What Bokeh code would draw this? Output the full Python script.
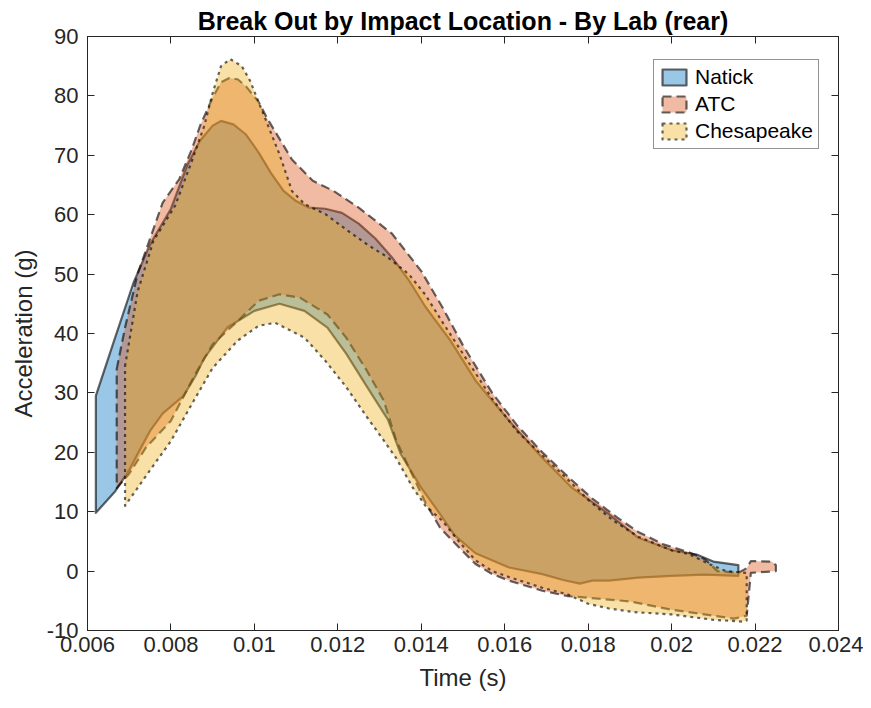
from bokeh.plotting import figure
from bokeh.models import LinearAxis, FixedTicker, Range1d, Legend, LegendItem
from bokeh.embed import file_html
from bokeh.resources import INLINE

# ---------------- data ----------------
natick_t_upper = [0.0062, 0.0066, 0.0071, 0.0075, 0.0080, 0.0084, 0.0087, 0.0090, 0.0092,
                  0.0095, 0.0098, 0.0101, 0.0104, 0.0107, 0.0110, 0.0113, 0.0117, 0.0121,
                  0.0125, 0.0129, 0.0133, 0.0137, 0.0141, 0.0147, 0.0153, 0.0161, 0.0169,
                  0.0176, 0.0185, 0.0192, 0.0200, 0.0206, 0.0210, 0.0216]
natick_upper = [29.5, 38, 48.5, 55, 61, 68.5, 72.5, 75, 75.8,
                75.2, 73.5, 70.5, 67, 64, 62.3, 61.2, 61, 60.3,
                58.5, 56, 52.8, 49, 44.5, 38.8, 32.1, 25.3, 19.1,
                14.1, 9.6, 5.6, 3.5, 2.8, 1.6, 1.0]
natick_t_lower = [0.0062, 0.00667, 0.0070, 0.0073, 0.0075, 0.0078, 0.0083, 0.0086, 0.0088,
                  0.00935, 0.0100, 0.0106, 0.0112, 0.01175, 0.0122, 0.0127, 0.0132, 0.0135,
                  0.0140, 0.01445, 0.0148, 0.0153, 0.0161, 0.0169, 0.0174, 0.0178, 0.0181,
                  0.0185, 0.0192, 0.0200, 0.0208, 0.0216]
natick_lower = [9.8, 13.5, 17, 21, 23.6, 26.5, 29.5, 33, 35.9,
                41, 43.8, 45, 43.8, 41, 36.6, 31, 25.5, 19.8,
                14, 9.6, 6, 3, 0.6, -0.5, -1.5, -2.1, -1.6,
                -1.6, -1.1, -0.8, -0.6, -0.8]

atc_t_upper = [0.0067, 0.0069, 0.0072, 0.0075, 0.0078, 0.0082, 0.0085, 0.0087, 0.0090,
               0.0092, 0.0094, 0.0096, 0.0098, 0.0101, 0.0103, 0.0106, 0.0109, 0.0114,
               0.0119, 0.0125, 0.0133, 0.0140, 0.0145, 0.0150, 0.0157, 0.0163, 0.0169,
               0.0175, 0.0181, 0.0187, 0.0192, 0.0198, 0.0204, 0.0208, 0.0211, 0.0216,
               0.0218, 0.0219, 0.0224, 0.0225]
atc_upper = [34, 41, 50, 56, 62, 66, 71, 75, 79.7,
             82.3, 83, 82.8, 81.6, 79, 76.3, 72.8, 69.3, 65.7,
             64, 61.2, 56.8, 50.5, 44.5, 38, 30, 24.5, 20,
             16, 12.2, 9, 6.6, 4.5, 3.2, 2.0, 0.0, -0.3,
             0.5, 1.7, 1.6, 1.0]
atc_t_lower = [0.0067, 0.0070, 0.0074, 0.0080, 0.00854, 0.0090, 0.0096, 0.0101, 0.0106,
               0.0111, 0.01175, 0.0122, 0.0127, 0.0131, 0.0134, 0.0138, 0.0141, 0.01445,
               0.0149, 0.0153, 0.0157, 0.0161, 0.0169, 0.0175, 0.0180, 0.0190, 0.0200,
               0.0210, 0.0215, 0.0218, 0.0219, 0.0225]
atc_lower = [14, 16.4, 20.8, 25.3, 32.6, 38.2, 42.1, 45.5, 46.6,
             46, 43.2, 39.3, 33.7, 28.7, 22, 16, 11.5, 7.3,
             4, 1.2, -0.5, -1.6, -3.3, -4.2, -4.5, -5.1, -6.5,
             -7.5, -8.0, -7.5, -0.3, 0.0]

ches_t_upper = [0.0069, 0.0072, 0.00758, 0.0081, 0.0085, 0.0088, 0.0090, 0.0092, 0.00942,
                0.0097, 0.0099, 0.0101, 0.0103, 0.0106, 0.0109, 0.0112, 0.0117, 0.0122,
                0.0127, 0.0132, 0.0137, 0.0141, 0.0145, 0.0151, 0.0157, 0.0163, 0.0169,
                0.0175, 0.0180, 0.0186, 0.0192, 0.0200, 0.0204, 0.0209, 0.0213, 0.0218]
ches_upper = [34.5, 47, 55.6, 61.5, 69, 75, 80.5, 85, 86.2,
              85, 82.5, 79, 75.5, 70.2, 64, 61.8, 60.1, 57.5,
              55, 52.8, 50, 46.5, 42, 35.5, 29, 23.5, 19.5,
              15.5, 12, 8.5, 5.8, 3.5, 2.9, 1.2, 0.0, -0.3]
ches_t_lower = [0.0069, 0.00744, 0.0080, 0.00854, 0.0090, 0.0096, 0.0101, 0.0105, 0.0112,
                0.0117, 0.0122, 0.0127, 0.0131, 0.0134, 0.0138, 0.0141, 0.0145, 0.0149,
                0.0153, 0.0157, 0.0161, 0.0169, 0.0175, 0.0180, 0.0185, 0.0191, 0.0200,
                0.0210, 0.0217, 0.0218]
ches_lower = [11, 16.4, 21.9, 28.6, 34.2, 38.8, 41.3, 41.8, 39.3,
              35.4, 31, 25.9, 22, 19, 14, 11, 8.5, 5,
              1.8, 0, -1.0, -2.8, -3.9, -5.5, -6.3, -6.9, -7.3,
              -8.2, -8.5, -8.3]

labs = ["Natick", "ATC", "Chesapeake"]
x_ticks = [0.006, 0.008, 0.01, 0.012, 0.014, 0.016, 0.018, 0.02, 0.022, 0.024]
x_tick_labels = ["0.006", "0.008", "0.01", "0.012", "0.014", "0.016", "0.018", "0.02", "0.022", "0.024"]
y_ticks = [-10, 0, 10, 20, 30, 40, 50, 60, 70, 80, 90]
y_tick_labels = ["-10", "0", "10", "20", "30", "40", "50", "60", "70", "80", "90"]

# ---------------- styling ----------------
FONT = "Liberation Sans"
AX = "#262626"
colors = ["#0072BD", "#D95319", "#EDB120"]
dashes = ["solid", "9 5", "3 4"]


def corridor(tu, vu, tl, vl):
    return list(tu) + list(tl)[::-1], list(vu) + list(vl)[::-1]


p = figure(frame_width=751, frame_height=594, output_backend="svg", toolbar_location=None,
           x_range=Range1d(0.006, 0.024), y_range=Range1d(-10, 90),
           min_border_left=87, min_border_right=25, min_border_top=36, min_border_bottom=62,
           background_fill_color="white", border_fill_color="white")

p.title.text = "Break Out by Impact Location - By Lab (rear)"
p.title.align = "center"
p.title.text_font = FONT
p.title.text_font_size = "25px"
p.title.text_font_style = "bold"
p.title.text_color = "black"
p.title.standoff = 4

p.xgrid.visible = False
p.ygrid.visible = False
p.outline_line_color = AX
p.outline_line_alpha = 1

for ax in (p.xaxis[0], p.yaxis[0]):
    ax.major_tick_in = 7
    ax.major_tick_out = 0
    ax.minor_tick_line_color = None
    ax.axis_line_color = AX
    ax.major_tick_line_color = AX
    ax.major_label_text_color = AX
    ax.major_label_text_font = FONT
    ax.major_label_text_font_size = "22px"
    ax.axis_label_text_font = FONT
    ax.axis_label_text_font_size = "24px"
    ax.axis_label_text_font_style = "normal"
    ax.axis_label_text_color = AX

p.xaxis.ticker = FixedTicker(ticks=x_ticks)
p.xaxis.major_label_overrides = {t: s for t, s in zip(x_ticks, x_tick_labels)}
p.yaxis.ticker = FixedTicker(ticks=y_ticks)
p.yaxis.major_label_overrides = {t: s for t, s in zip(y_ticks, y_tick_labels)}
p.xaxis.axis_label = "Time (s)"
p.yaxis.axis_label = "Acceleration (g)"
p.xaxis.major_label_standoff = 6
p.xaxis.axis_label_standoff = 9
p.yaxis.major_label_standoff = 9
p.yaxis.axis_label_standoff = 7

# box ticks on the top and right edges (no labels)
top = LinearAxis(ticker=FixedTicker(ticks=x_ticks), major_label_text_font_size="0px",
                 major_label_text_color=None,
                 major_tick_in=7, major_tick_out=0, minor_tick_line_color=None,
                 major_label_standoff=0, axis_line_color=AX, major_tick_line_color=AX)
right = LinearAxis(ticker=FixedTicker(ticks=y_ticks), major_label_text_font_size="0px",
                   major_label_text_color=None,
                   major_tick_in=7, major_tick_out=0, minor_tick_line_color=None,
                   major_label_standoff=0, axis_line_color=AX, major_tick_line_color=AX)
p.add_layout(top, "above")
p.add_layout(right, "right")

polys = [corridor(natick_t_upper, natick_upper, natick_t_lower, natick_lower),
         corridor(atc_t_upper, atc_upper, atc_t_lower, atc_lower),
         corridor(ches_t_upper, ches_upper, ches_t_lower, ches_lower)]

items = []
for lab, (xs, ys), c, d in zip(labs, polys, colors, dashes):
    r = p.patch(xs, ys, fill_color=c, fill_alpha=0.4, line_color="black", line_alpha=0.6,
                line_width=2.2, line_dash=d, line_join="round")
    items.append(LegendItem(label=lab, renderers=[r]))

legend = Legend(items=items, location=(566, 481), label_text_font=FONT,
                label_text_font_size="21px", label_text_color="black",
                glyph_width=30, glyph_height=20, label_height=24, label_standoff=6,
                padding=5, spacing=3, margin=0,
                border_line_color=AX, border_line_width=1, background_fill_alpha=1)
p.add_layout(legend, "center")

open("out.html", "w").write(file_html(p, INLINE))
